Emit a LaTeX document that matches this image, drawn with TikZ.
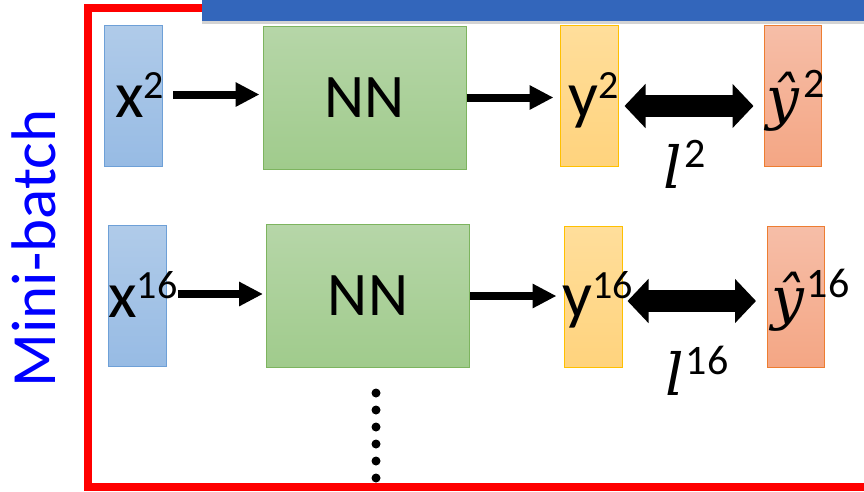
\documentclass[tikz,border=0pt]{standalone}
\usepackage{fontspec}
\setmainfont{Carlito}
\newfontfamily\lossfont{DejaVu Serif}
\usetikzlibrary{arrows.meta,shadows}

\definecolor{xtop}{RGB}{176,203,233}
\definecolor{xbot}{RGB}{151,187,228}
\definecolor{xline}{RGB}{110,160,215}
\definecolor{nntop}{RGB}{182,214,168}
\definecolor{nnbot}{RGB}{160,203,140}
\definecolor{nnline}{RGB}{125,180,95}
\definecolor{ytop}{RGB}{255,222,155}
\definecolor{ybot}{RGB}{255,211,125}
\definecolor{yline}{RGB}{255,192,0}
\definecolor{yhtop}{RGB}{246,190,168}
\definecolor{yhbot}{RGB}{244,166,132}
\definecolor{yhline}{RGB}{237,125,49}
\definecolor{banner}{RGB}{51,102,187}
\definecolor{mbblue}{RGB}{0,0,255}

\newcommand{\suplab}[2]{{\fontsize{66}{70}\selectfont #1}{\fontsize{40}{44}\selectfont\raisebox{19pt}{#2}}}
\newcommand{\itlab}[3]{{\lossfont\itshape\fontsize{58}{70}\selectfont #1}\kern#3{\fontsize{42}{44}\selectfont\raisebox{21pt}{#2}}}

\begin{document}
\begin{tikzpicture}[x=1pt,y=-1pt,
  vec/.style={shade,draw,line width=1pt,inner sep=0pt,minimum width=58pt,minimum height=141pt},
  xbox/.style={vec,top color=xtop,bottom color=xbot,draw=xline},
  ybox/.style={vec,top color=ytop,bottom color=ybot,draw=yline},
  yhbox/.style={vec,minimum width=57pt,top color=yhtop,bottom color=yhbot,draw=yhline},
  nnbox/.style={vec,minimum width=203pt,minimum height=143pt,top color=nntop,bottom color=nnbot,draw=nnline,
    font=\fontsize{62}{70}\selectfont},
  lab/.style={inner sep=0pt,anchor=base west},
  arr/.style={line width=8pt,-{Triangle[length=24pt,width=23pt]}},
  loss/.style={line width=22pt,{Triangle[length=21pt,width=43pt]}-{Triangle[length=21pt,width=43pt]}}]
\useasboundingbox (0,0) rectangle (864,491);
\clip (0,0) rectangle (864,491);

\draw[red,line width=8pt] (88,8) rectangle (900,487);
\fill[banner,drop shadow={shadow xshift=0pt,shadow yshift=-3pt,opacity=0.35}] (202,-20) rectangle (900,21);

\node[rotate=90,anchor=base,text=mbblue,inner sep=0pt,font=\fontsize{63}{70}\selectfont] (mb) at (55,248.5) {Mini-batch};

% first sample
\node[xbox] (xa) at (133,95.5) {};
\node[nnbox] (nna) at (364.5,97.5) {NN};
\node[ybox] (ya) at (589,95.5) {};
\node[yhbox] (yha) at (792.5,95.5) {};
\node[lab] (lxa) at (115,117) {\suplab{x}{2}};
\node[lab] (lya) at (568,117) {\suplab{y}{2}};
\node[lab] (lyha) at (766,118) {\itlab{ŷ}{2}{5pt}};
\node[lab] (la) at (663,188) {\itlab{l}{2}{3pt}};
\draw[arr,shorten <=9pt,shorten >=3pt] (lxa.east) -- (lxa.east -| nna.west);
\draw[arr,shorten >=6pt] (nna.east) -- (nna.east -| ya.west);
\draw[loss,shorten <=6pt,shorten >=10pt] ([yshift=-10.5pt]ya.east) -- ([yshift=-10.5pt]yha.west);

% second sample
\node[xbox] (xb) at (137,296) {};
\node[nnbox] (nnb) at (368,296) {NN};
\node[ybox] (yb) at (593,296.5) {};
\node[yhbox] (yhb) at (796,296.5) {};
\node[lab] (lxb) at (108,317) {\suplab{x}{16}};
\node[lab] (lyb) at (562,317) {\suplab{y}{16}};
\node[lab] (lyhb) at (771,318) {\itlab{ŷ}{16}{3pt}};
\node[lab] (lb) at (665,395) {\itlab{l}{16}{2pt}};
\draw[arr,shorten >=3pt] (lxb.east) -- (lxb.east -| nnb.west);
\draw[arr,shorten >=7pt] (nnb.east) -- (nnb.east -| yb.west);
\draw[loss,shorten <=5pt,shorten >=11pt] ([yshift=-4.5pt]yb.east) -- ([yshift=-4.5pt]yhb.west);

\foreach \k in {0,...,5}
  \fill (376,{393+17*\k}) circle (4.5pt);
\end{tikzpicture}
\end{document}
